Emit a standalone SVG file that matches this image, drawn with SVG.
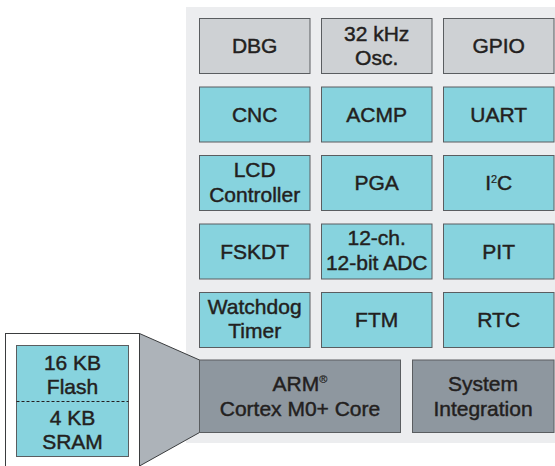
<svg xmlns="http://www.w3.org/2000/svg" width="555" height="466" viewBox="0 0 555 466">
<style>
.t{font-family:"Liberation Sans",Arial,sans-serif;font-size:21px;fill:#231f20;stroke:#231f20;stroke-width:0.45;text-anchor:middle}
.g{fill:#ced1d4;stroke:#5a5d60;stroke-width:1}
.c{fill:#87d3de;stroke:#5a5d60;stroke-width:1}
.d{fill:#8e979f;stroke:#5a5d60;stroke-width:1}
.s{font-size:11px;stroke-width:0.2}
</style>
<rect x="186" y="7" width="369" height="436" fill="#ecedef"/>
<g id="dbg"><rect class="g" x="199.5" y="18.5" width="110.5" height="55"/><text class="t" x="254.7" y="53">DBG</text></g>
<g id="osc"><rect class="g" x="321.5" y="18.5" width="110.5" height="55"/><text class="t" x="376.7" y="40.5">32 kHz</text><text class="t" x="376.7" y="65">Osc.</text></g>
<g id="gpio"><rect class="g" x="443.5" y="18.5" width="110.5" height="55"/><text class="t" x="498.7" y="53">GPIO</text></g>
<g id="cnc"><rect class="c" x="199.5" y="87" width="110.5" height="55"/><text class="t" x="254.7" y="121.5">CNC</text></g>
<g id="acmp"><rect class="c" x="321.5" y="87" width="110.5" height="55"/><text class="t" x="376.7" y="121.5">ACMP</text></g>
<g id="uart"><rect class="c" x="443.5" y="87" width="110.5" height="55"/><text class="t" x="498.7" y="121.5">UART</text></g>
<g id="lcd"><rect class="c" x="199.5" y="155.5" width="110.5" height="55"/><text class="t" x="254.7" y="176.5">LCD</text><text class="t" x="254.7" y="201.5">Controller</text></g>
<g id="pga"><rect class="c" x="321.5" y="155.5" width="110.5" height="55"/><text class="t" x="376.7" y="190">PGA</text></g>
<g id="i2c"><rect class="c" x="443.5" y="155.5" width="110.5" height="55"/><text class="t" x="498.7" y="190">I<tspan class="s" dy="-7">2</tspan><tspan dy="7">C</tspan></text></g>
<g id="fskdt"><rect class="c" x="199.5" y="224" width="110.5" height="55"/><text class="t" x="254.7" y="258.5">FSKDT</text></g>
<g id="adc"><rect class="c" x="321.5" y="224" width="110.5" height="55"/><text class="t" x="376.7" y="245">12-ch.</text><text class="t" x="376.7" y="270">12-bit ADC</text></g>
<g id="pit"><rect class="c" x="443.5" y="224" width="110.5" height="55"/><text class="t" x="498.7" y="258.5">PIT</text></g>
<g id="wdt"><rect class="c" x="199.5" y="292.5" width="110.5" height="55"/><text class="t" x="254.7" y="313.5">Watchdog</text><text class="t" x="254.7" y="338">Timer</text></g>
<g id="ftm"><rect class="c" x="321.5" y="292.5" width="110.5" height="55"/><text class="t" x="376.7" y="327">FTM</text></g>
<g id="rtc"><rect class="c" x="443.5" y="292.5" width="110.5" height="55"/><text class="t" x="498.7" y="327">RTC</text></g>
<g id="memory">
<rect x="5.5" y="333.5" width="134" height="140" fill="#ffffff" stroke="#3a3c3e" stroke-width="1"/>
<rect class="c" x="16.5" y="345.5" width="112" height="111"/>
<line x1="16.5" y1="401.5" x2="128.5" y2="401.5" stroke="#231f20" stroke-width="1" stroke-dasharray="3,2"/>
<text class="t" x="72.5" y="370">16 KB</text><text class="t" x="72.5" y="393.5">Flash</text>
<text class="t" x="72.5" y="424.5">4 KB</text><text class="t" x="72.5" y="448.5">SRAM</text>
</g>
<g id="connectors">
<path d="M139.5,333.5 L199.5,360 L199.5,432.5 L139.5,466 Z" fill="#adb3b9" stroke="#3a3c3e" stroke-width="1"/>
</g>
<g id="arm"><rect class="d" x="199.5" y="360" width="201" height="72.5"/><text class="t" x="300" y="390.5">ARM<tspan class="s" dy="-8">®</tspan></text><text class="t" x="300" y="415.5">Cortex M0+ Core</text></g>
<g id="sysint"><rect class="d" x="412.5" y="360" width="141.5" height="72.5"/><text class="t" x="483" y="391">System</text><text class="t" x="483" y="415.5">Integration</text></g>
</svg>
